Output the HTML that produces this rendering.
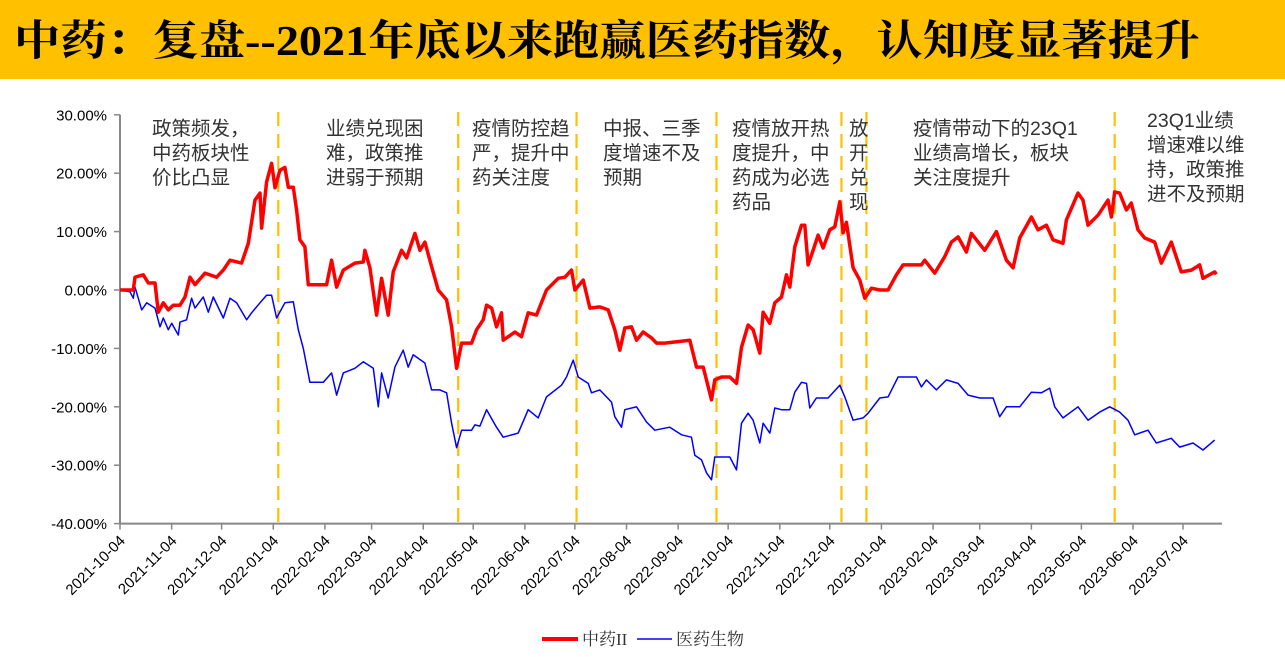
<!DOCTYPE html>
<html><head><meta charset="utf-8">
<style>
html,body{margin:0;padding:0;background:#fff;width:1285px;height:657px;overflow:hidden}
svg{display:block}
</style></head>
<body>
<svg id="chart" width="1285" height="657" xmlns="http://www.w3.org/2000/svg">
<rect x="0" y="0" width="1285" height="79" fill="#FFC000"/>
<text x="14" y="55" textLength="1186" lengthAdjust="spacingAndGlyphs" font-family="'Liberation Serif','Noto Serif CJK SC',serif" font-weight="bold" font-size="42" fill="#000">中药：复盘--2021年底以来跑赢医药指数，认知度显著提升</text>
<g id="grid"></g>
<g id="marks"></g>
<g id="ann" font-family="'Liberation Sans','Noto Sans CJK SC',sans-serif" font-size="19.5" fill="#333"></g>
<g id="legend">
  <line x1="542" y1="639" x2="578" y2="639" stroke="#FF0000" stroke-width="4"/>
  <text x="582" y="645" font-family="'Liberation Serif','Noto Serif CJK SC',serif" font-size="17" fill="#333">中药II</text>
  <line x1="637" y1="639" x2="672" y2="639" stroke="#0000FF" stroke-width="1.6"/>
  <text x="676" y="645" font-family="'Liberation Serif','Noto Serif CJK SC',serif" font-size="17" fill="#333">医药生物</text>
</g>
</svg>
<script>
// day offsets from 2021-10-04
const redDays = [0,8,9,14,17,21,23,26,29,32,36,39,42,45,51,58,62,66,73,77,81,84,85,88,91,93,96,99,101,104,106,108,111,113,124,127,130,134,141,146,147,150,154,157,161,164,169,172,177,180,183,187,191,196,199,202,205,211,214,218,220,223,226,229,230,237,241,245,250,256,263,267,271,273,278,282,288,293,297,300,303,307,310,314,319,322,327,342,346,350,355,357,361,366,370,373,377,380,384,386,390,393,397,400,402,405,409,411,413,416,419,422,426,429,432,434,436,440,444,447,451,456,461,466,470,481,483,489,495,499,503,508,511,514,519,526,532,536,540,547,551,556,560,566,568,575,578,581,587,593,595,597,600,604,607,611,615,621,625,631,637,643,648,650,657,658];
const redVals = [0,0,2.2,2.6,1.2,1.2,-3.8,-2.2,-3.4,-2.6,-2.6,-1.2,2.2,0.9,2.9,2.2,3.4,5.1,4.6,8,15.4,16.6,10.6,18.5,21.7,17.5,20.5,21,17.6,17.6,13.7,8.6,7.4,0.9,0.9,5.1,0.5,3.4,4.6,4.8,6.8,3.8,-4.3,2.0,-4.3,3.1,6.8,5.5,9.7,6.8,8.2,4.0,0,-1.7,-6.3,-13.4,-9.1,-9.1,-6.8,-5.1,-2.6,-3.1,-6.3,-3.9,-8.6,-7.2,-8,-3.9,-4.3,0,2.0,2.2,3.4,0,1.7,-3.1,-2.9,-3.4,-6.8,-10.3,-6.5,-6.3,-8.6,-7.2,-8.2,-9.1,-9.1,-8.6,-13.2,-13.2,-18.8,-15.4,-14.9,-14.9,-16,-9.8,-6,-6.8,-10.8,-3.8,-5.7,-2.2,-1.2,2.6,0.5,7.4,11.1,11.1,4.3,6.8,9.4,7.2,10.3,10.8,15.1,9.8,11.6,3.8,1.7,-1.4,0.3,0,0,2.6,4.3,4.3,5.1,2.9,5.7,8.2,9.1,6.5,9.7,8.6,6.8,10,5.1,3.8,8.9,12.5,10.3,11.1,8.6,8,12,16.6,15.4,11.1,12.8,15.4,12.5,16.8,16.6,13.7,14.9,10.3,8.9,8.2,4.6,8.2,3.1,3.4,4.3,2.0,3.1,2.7];
const blueDays = [0,6,8,9,13,16,21,24,26,29,31,35,36,40,43,45,50,53,56,62,66,70,76,79,84,88,91,94,99,104,107,110,114,122,127,130,134,141,146,152,155,157,161,165,170,173,176,183,187,192,196,199,202,205,211,213,216,220,226,230,239,245,251,256,265,268,272,275,281,283,288,295,297,301,303,310,316,321,330,337,343,345,349,352,355,357,366,370,373,377,380,384,386,390,393,397,402,405,409,412,414,418,425,432,435,440,446,449,456,461,467,478,481,484,490,496,503,509,516,524,528,532,540,547,553,558,561,566,575,581,588,594,600,605,609,617,622,631,636,644,650,657];
const blueVals = [0,-0.3,-1.4,0.5,-3.4,-2.2,-3.1,-6.3,-4.8,-6.8,-5.7,-7.7,-5.5,-5.1,-1.4,-3.1,-1.2,-3.8,-1.2,-4.8,-1.4,-2.2,-5.1,-3.9,-2.2,-0.9,-0.9,-4.8,-2.2,-2,-6.8,-10,-15.8,-15.8,-14.2,-18,-14.2,-13.4,-12.3,-13.4,-20,-14.2,-18.5,-13.2,-10.3,-13.2,-11.1,-12.5,-17.1,-17.1,-17.6,-22.8,-27,-24,-24,-23.1,-23.3,-20.5,-23.5,-25.2,-24.5,-20.5,-21.9,-18.3,-16.3,-14.9,-12,-14.9,-16,-17.6,-17.1,-19.2,-21.7,-23.5,-20.5,-20,-22.6,-24,-23.5,-24.8,-25.2,-28.3,-29.1,-31.3,-32.5,-28.6,-28.6,-30.8,-22.8,-21.1,-22.3,-26.2,-22.8,-24.5,-20.2,-20.5,-20.5,-17.5,-15.8,-16,-20.2,-18.5,-18.5,-16.3,-18.3,-22.3,-21.9,-21.1,-18.5,-18.3,-14.9,-14.9,-16.6,-15.4,-17.1,-15.4,-16,-18,-18.5,-18.5,-21.7,-20,-20,-17.5,-17.6,-16.8,-20,-21.9,-20,-22.3,-20.9,-20,-20.9,-22.3,-24.8,-24,-26.2,-25.4,-26.9,-26.2,-27.4,-25.7];
const yTicks = [30,20,10,0,-10,-20,-30,-40];
const xTickLabels = ["2021-10-04","2021-11-04","2021-12-04","2022-01-04","2022-02-04","2022-03-04","2022-04-04","2022-05-04","2022-06-04","2022-07-04","2022-08-04","2022-09-04","2022-10-04","2022-11-04","2022-12-04","2023-01-04","2023-02-04","2023-03-04","2023-04-04","2023-05-04","2023-06-04","2023-07-04"];
const eventDays = [95,203,274,358,433,448,597];

const NS="http://www.w3.org/2000/svg";
const X0=120, X1=1222, DX=(1183-120)/638;
const xS=d=>X0+d*DX;
const yS=v=>290-v*5.84;
const start=Date.UTC(2021,9,4);
const dayOf=s=>{const p=s.split('-');return Math.round((Date.UTC(+p[0],+p[1]-1,+p[2])-start)/864e5);};
function mk(tag,attrs,parent){const e=document.createElementNS(NS,tag);for(const k in attrs)e.setAttribute(k,attrs[k]);parent.appendChild(e);return e;}
const grid=document.getElementById('grid'), marks=document.getElementById('marks'), ann=document.getElementById('ann');

let ya=mk('line',{x1:X0,y1:yS(30),x2:X0,y2:yS(-40),stroke:'#888','stroke-width':2},grid);


let xa=mk('line',{x1:X0,y1:yS(-40),x2:X1,y2:yS(-40),stroke:'#888','stroke-width':2},grid);


yTicks.forEach(v=>{
  mk('line',{x1:X0-6,y1:yS(v),x2:X0,y2:yS(v),stroke:'#888','stroke-width':1.5},grid);
  const t=mk('text',{x:X0-13,y:yS(v)+5.5,'text-anchor':'end','font-family':"'Liberation Sans',sans-serif",'font-size':15,fill:'#000'},grid);
  t.textContent=v.toFixed(2)+'%';
  
  
});
xTickLabels.forEach(s=>{
  const x=xS(dayOf(s)), y=yS(-40);
  mk('line',{x1:x,y1:y,x2:x,y2:y+6,stroke:'#888','stroke-width':1.5},grid);
  const ax=x+6, ay=y+18;
  const t=mk('text',{x:ax,y:ay,'text-anchor':'end',transform:`rotate(-45 ${ax} ${ay})`,'font-family':"'Liberation Sans',sans-serif",'font-size':15,fill:'#000'},grid);
  t.textContent=s;
  
  
});
eventDays.forEach(d=>{
  const l=mk('line',{x1:xS(d),y1:112,x2:xS(d),y2:528,stroke:'#FFC000','stroke-width':2.2,'stroke-dasharray':'14 8'},marks);
  
  
});
function line(days,vals,color,w,name){
  const p=mk('polyline',{points:days.map((d,i)=>xS(d).toFixed(1)+','+yS(vals[i]).toFixed(1)).join(' '),fill:'none',stroke:color,'stroke-width':w,'stroke-linejoin':'round'},marks);
  
  
}
line(blueDays,blueVals,'#0000FF',1.5,'series-yiyao-shengwu');
line(redDays,redVals,'#FF0000',3.5,'series-zhongyao');

const notes=[
 [152,135,["政策频发，","中药板块性","价比凸显"]],
 [326,135,["业绩兑现困","难，政策推","进弱于预期"]],
 [472,135,["疫情防控趋","严，提升中","药关注度"]],
 [603,135,["中报、三季","度增速不及","预期"]],
 [732,135,["疫情放开热","度提升，中","药成为必选","药品"]],
 [849,135,["放","开","兑","现"]],
 [913,135,["疫情带动下的23Q1","业绩高增长，板块","关注度提升"]],
 [1147,127,["23Q1业绩","增速难以维","持，政策推","进不及预期"]]
];
notes.forEach(n=>{
  const t=mk('text',{x:n[0],y:n[1]},ann);
  
  
  n[2].forEach((s,i)=>{const sp=mk('tspan',{x:n[0],dy:i?24.5:0},t);sp.textContent=s;});
});
</script>
</body></html>
